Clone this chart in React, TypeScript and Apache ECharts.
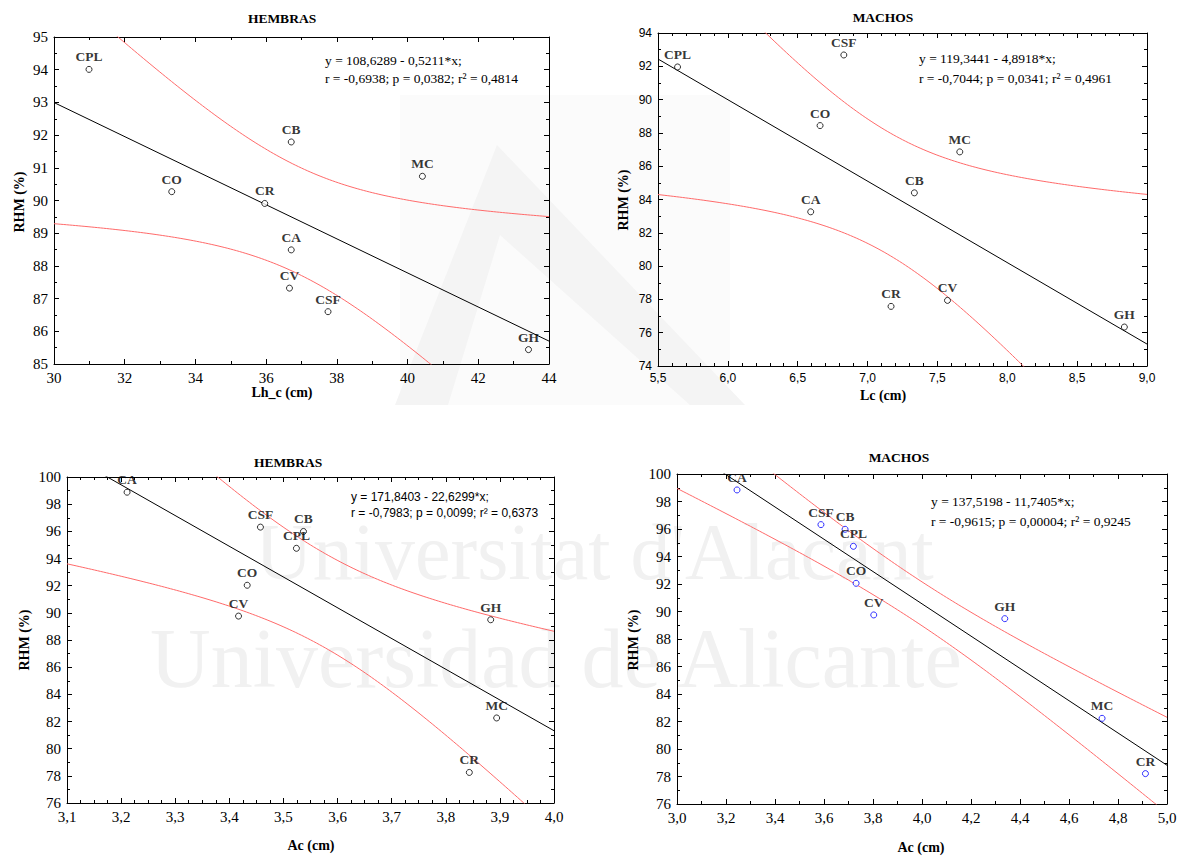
import React, { useEffect, useRef } from 'react';
import * as echarts from 'echarts';

// ---------- DATA ----------
// Panel 1: HEMBRAS, RHM vs Lh_c
const P1_NAMES = ['CPL', 'CO', 'CR', 'CB', 'MC', 'CA', 'CV', 'CSF', 'GH'];
const P1_X = [30.99, 33.33, 35.96, 36.71, 40.42, 36.71, 36.66, 37.75, 43.42];
const P1_Y = [94.01, 90.27, 89.91, 91.79, 90.74, 88.49, 87.32, 86.6, 85.44];
const P1_COEF = [108.6289, -0.5211];
const P1_EQ = ['y = 108,6289 - 0,5211*x;', 'r = -0,6938; p = 0,0382; r² = 0,4814'];

// Panel 2: MACHOS, RHM vs Lc
const P2_NAMES = ['CPL', 'CSF', 'CO', 'MC', 'CB', 'CA', 'CR', 'CV', 'GH'];
const P2_X = [5.64, 6.83, 6.66, 7.66, 7.335, 6.593, 7.168, 7.572, 8.838];
const P2_Y = [91.96, 92.68, 88.44, 86.86, 84.4, 83.26, 77.58, 77.94, 76.34];
const P2_COEF = [119.3441, -4.8918];
const P2_EQ = ['y = 119,3441 - 4,8918*x;', 'r = -0,7044; p = 0,0341; r² = 0,4961'];

// Panel 3: HEMBRAS, RHM vs Ac
const P3_NAMES = ['CA', 'CSF', 'CB', 'CPL', 'CO', 'CV', 'GH', 'MC', 'CR'];
const P3_X = [3.211, 3.4575, 3.537, 3.524, 3.433, 3.417, 3.883, 3.894, 3.8435];
const P3_Y = [98.88, 96.31, 95.99, 94.75, 92.03, 89.76, 89.49, 82.26, 78.25];
const P3_COEF = [171.8403, -22.6299];
const P3_EQ = ['y = 171,8403 - 22,6299*x;', 'r = -0,7983; p = 0,0099; r² = 0,6373'];

// Panel 4: MACHOS, RHM vs Ac
const P4_NAMES = ['CA', 'CSF', 'CB', 'CPL', 'CO', 'CV', 'GH', 'MC', 'CR'];
const P4_X = [3.245, 3.5875, 3.686, 3.72, 3.731, 3.803, 4.338, 4.735, 4.912];
const P4_Y = [98.84, 96.32, 95.98, 94.74, 92.05, 89.75, 89.48, 82.23, 78.21];
const P4_COEF = [137.5198, -11.7405];
const P4_EQ = ['y = 137,5198 - 11,7405*x;', 'r = -0,9615; p = 0,00004; r² = 0,9245'];

const P1_XTICKS = [30, 44, 2];
const P1_YTICKS = [85, 95, 1];
const P2_XTICKS = [5.5, 9.0, 0.5];
const P2_YTICKS = [74, 94, 2];
const P3_XTICKS = [3.1, 4.0, 0.1];
const P3_YTICKS = [76, 100, 2];
const P4_XTICKS = [3.0, 5.0, 0.2];
const P4_YTICKS = [76, 100, 2];

// Student t (0.975, df = 7) for the 95% confidence band of the mean
const T_975_DF7 = 2.3646;

const SERIF = '"Liberation Serif", "Times New Roman", serif';
const SANS = '"Liberation Sans", Arial, sans-serif';

const comma1 = (v: number) => v.toFixed(1).replace('.', ',');
const int0 = (v: number) => String(Math.round(v));

const panels = [
  {
    names: P1_NAMES, xs: P1_X, ys: P1_Y, coef: P1_COEF, eq: P1_EQ,
    xt: P1_XTICKS, yt: P1_YTICKS, xMinor: 2, yMinor: 2, xFmt: int0, yFmt: int0,
    grid: { left: 54, top: 37, width: 495, height: 327 },
    labFont: SERIF, labSize: 15, eqFont: SERIF, eqSize: 13.5,
    eqPos: [325, 60, 78], marker: '#000',
    title: 'HEMBRAS', titlePos: [282, 18],
    xName: 'Lh_c (cm)', xNamePos: [282, 392],
    yNamePos: [19, 202],
  },
  {
    names: P2_NAMES, xs: P2_X, ys: P2_Y, coef: P2_COEF, eq: P2_EQ,
    xt: P2_XTICKS, yt: P2_YTICKS, xMinor: 5, yMinor: 2, xFmt: comma1, yFmt: int0,
    grid: { left: 658, top: 33, width: 489, height: 333 },
    labFont: SANS, labSize: 12, eqFont: SERIF, eqSize: 13.5,
    eqPos: [919, 58, 78], marker: '#000',
    title: 'MACHOS', titlePos: [883, 17],
    xName: 'Lc (cm)', xNamePos: [883, 395],
    yNamePos: [623, 200],
  },
  {
    names: P3_NAMES, xs: P3_X, ys: P3_Y, coef: P3_COEF, eq: P3_EQ,
    xt: P3_XTICKS, yt: P3_YTICKS, xMinor: 4, yMinor: 2, xFmt: comma1, yFmt: int0,
    grid: { left: 67, top: 477, width: 487, height: 326 },
    labFont: SERIF, labSize: 15, eqFont: SANS, eqSize: 12,
    eqPos: [351, 497, 513], marker: '#000',
    title: 'HEMBRAS', titlePos: [288, 462],
    xName: 'Ac (cm)', xNamePos: [311, 845],
    yNamePos: [24, 640],
  },
  {
    names: P4_NAMES, xs: P4_X, ys: P4_Y, coef: P4_COEF, eq: P4_EQ,
    xt: P4_XTICKS, yt: P4_YTICKS, xMinor: 2, yMinor: 2, xFmt: comma1, yFmt: int0,
    grid: { left: 677, top: 474, width: 490, height: 330 },
    labFont: SERIF, labSize: 15, eqFont: SERIF, eqSize: 13.5,
    eqPos: [931, 501, 521], marker: '#0000ff',
    title: 'MACHOS', titlePos: [899, 457],
    xName: 'Ac (cm)', xNamePos: [921, 847],
    yNamePos: [633, 640],
  },
];

function bands(xs: number[], ys: number[], coef: number[], x0: number, x1: number, steps: number) {
  const n = xs.length;
  const [a, b] = coef;
  const xbar = xs.reduce((s, v) => s + v, 0) / n;
  const sxx = xs.reduce((s, v) => s + (v - xbar) * (v - xbar), 0);
  const sse = xs.reduce((s, v, i) => s + Math.pow(ys[i] - (a + b * v), 2), 0);
  const se = Math.sqrt(sse / (n - 2));
  const up: number[][] = [];
  const lo: number[][] = [];
  for (let i = 0; i <= steps; i++) {
    const x = x0 + ((x1 - x0) * i) / steps;
    const yh = a + b * x;
    const h = T_975_DF7 * se * Math.sqrt(1 / n + ((x - xbar) * (x - xbar)) / sxx);
    up.push([x, yh + h]);
    lo.push([x, yh - h]);
  }
  return { up, lo };
}

function buildOption() {
  const grid: any[] = [];
  const xAxis: any[] = [];
  const yAxis: any[] = [];
  const series: any[] = [];
  const graphic: any[] = [];

  const axisLine = { show: true, onZero: false, lineStyle: { color: '#000', width: 1 } };
  const tick = { show: true, inside: true, length: 5, lineStyle: { color: '#000', width: 1 } };

  panels.forEach((p, i) => {
    grid.push({ ...p.grid, containLabel: false });
    const [xmin, xmax, xint] = p.xt;
    const [ymin, ymax, yint] = p.yt;
    const minorX = { show: true, splitNumber: p.xMinor, length: 3, lineStyle: { color: '#000', width: 1 } };
    const minorY = { show: true, splitNumber: p.yMinor, length: 3, lineStyle: { color: '#000', width: 1 } };
    const labelStyle = { fontFamily: p.labFont, fontSize: p.labSize, color: '#000' };
    xAxis.push({
      type: 'value', gridIndex: i, position: 'bottom', min: xmin, max: xmax, interval: xint,
      axisLine, axisTick: tick, minorTick: minorX, splitLine: { show: false },
      axisLabel: { ...labelStyle, margin: 6, formatter: p.xFmt, showMinLabel: true, showMaxLabel: true },
    });
    xAxis.push({
      type: 'value', gridIndex: i, position: 'top', min: xmin, max: xmax, interval: xint,
      axisLine, axisTick: tick, minorTick: minorX, splitLine: { show: false },
      axisLabel: { show: false },
    });
    yAxis.push({
      type: 'value', gridIndex: i, position: 'left', min: ymin, max: ymax, interval: yint,
      axisLine, axisTick: tick, minorTick: minorY, splitLine: { show: false },
      axisLabel: { ...labelStyle, margin: 6, formatter: p.yFmt, showMinLabel: true, showMaxLabel: true },
    });
    yAxis.push({
      type: 'value', gridIndex: i, position: 'right', min: ymin, max: ymax, interval: yint,
      axisLine, axisTick: tick, minorTick: minorY, splitLine: { show: false },
      axisLabel: { show: false },
    });

    const xi = 2 * i;
    const yi = 2 * i;
    const { up, lo } = bands(p.xs, p.ys, p.coef, xmin, xmax, 160);
    const [a, b] = p.coef;
    const red = { color: '#ff6a6a', width: 1 };
    series.push({
      type: 'line', xAxisIndex: xi, yAxisIndex: yi, data: up, symbol: 'none', clip: true,
      lineStyle: red, silent: true, z: 2,
    });
    series.push({
      type: 'line', xAxisIndex: xi, yAxisIndex: yi, data: lo, symbol: 'none', clip: true,
      lineStyle: red, silent: true, z: 2,
    });
    series.push({
      type: 'line', xAxisIndex: xi, yAxisIndex: yi,
      data: [[xmin, a + b * xmin], [xmax, a + b * xmax]],
      symbol: 'none', clip: true, lineStyle: { color: '#000', width: 1 }, silent: true, z: 3,
    });
    series.push({
      type: 'scatter', xAxisIndex: xi, yAxisIndex: yi,
      data: p.xs.map((x, k) => ({ value: [x, p.ys[k]], name: p.names[k] })),
      symbol: 'circle', symbolSize: 6, z: 4,
      itemStyle: { color: '#fff', borderColor: p.marker, borderWidth: 1 },
      label: {
        show: true, position: 'top', distance: 2, formatter: '{b}',
        fontFamily: SERIF, fontWeight: 'bold', fontSize: 13.5, color: '#000',
      },
    });

    const txt = (text: string, x: number, y: number, font: string, size: number, bold: boolean, align: string, rot = 0) => ({
      type: 'text', x, y, rotation: rot, z: 10,
      style: {
        text, fontFamily: font, fontSize: size, fontWeight: bold ? 'bold' : 'normal', fill: '#000',
        align, verticalAlign: 'middle', textAlign: align, textVerticalAlign: 'middle',
      },
    });
    graphic.push(txt(p.title, p.titlePos[0], p.titlePos[1], SERIF, 13.5, true, 'center'));
    graphic.push(txt(p.xName, p.xNamePos[0], p.xNamePos[1], SERIF, 14, true, 'center'));
    graphic.push(txt('RHM (%)', p.yNamePos[0], p.yNamePos[1], SERIF, 14, true, 'center', Math.PI / 2));
    graphic.push(txt(p.eq[0], p.eqPos[0], p.eqPos[1], p.eqFont, p.eqSize, false, 'left'));
    graphic.push(txt(p.eq[1], p.eqPos[0], p.eqPos[2], p.eqFont, p.eqSize, false, 'left'));
  });

  // faint watermark (university name and logo of the scanned document)
  const wm = (text: string, x: number, y: number, size: number) => ({
    type: 'text', x, y, z: -10, silent: true,
    style: {
      text, fontFamily: SERIF, fontSize: size, fill: '#f1f1f1',
      align: 'left', verticalAlign: 'bottom', textAlign: 'left', textVerticalAlign: 'bottom',
    },
  });
  graphic.unshift(wm('Universidad de Alicante', 150, 700, 84));
  graphic.unshift(wm("Universitat d'Alacant", 255, 592, 80));
  graphic.unshift({
    type: 'polygon', z: -11, silent: true,
    shape: { points: [[395, 405], [497, 145], [745, 405], [690, 405], [500, 235], [448, 405]] },
    style: { fill: '#f4f4f4' },
  });
  graphic.unshift({
    type: 'rect', z: -12, silent: true,
    shape: { x: 400, y: 95, width: 330, height: 310 },
    style: { fill: '#fbfbfb' },
  });

  return { animation: false, backgroundColor: '#fff', grid, xAxis, yAxis, series, graphic };
}

export default function App() {
  const ref = useRef<HTMLDivElement>(null);
  useEffect(() => {
    document.body.style.margin = '0';
    if (!ref.current) return;
    const chart = echarts.init(ref.current, undefined, { renderer: 'svg' });
    chart.setOption(buildOption() as any);
    return () => chart.dispose();
  }, []);
  return <div ref={ref} style={{ width: 1182, height: 856 }} />;
}
